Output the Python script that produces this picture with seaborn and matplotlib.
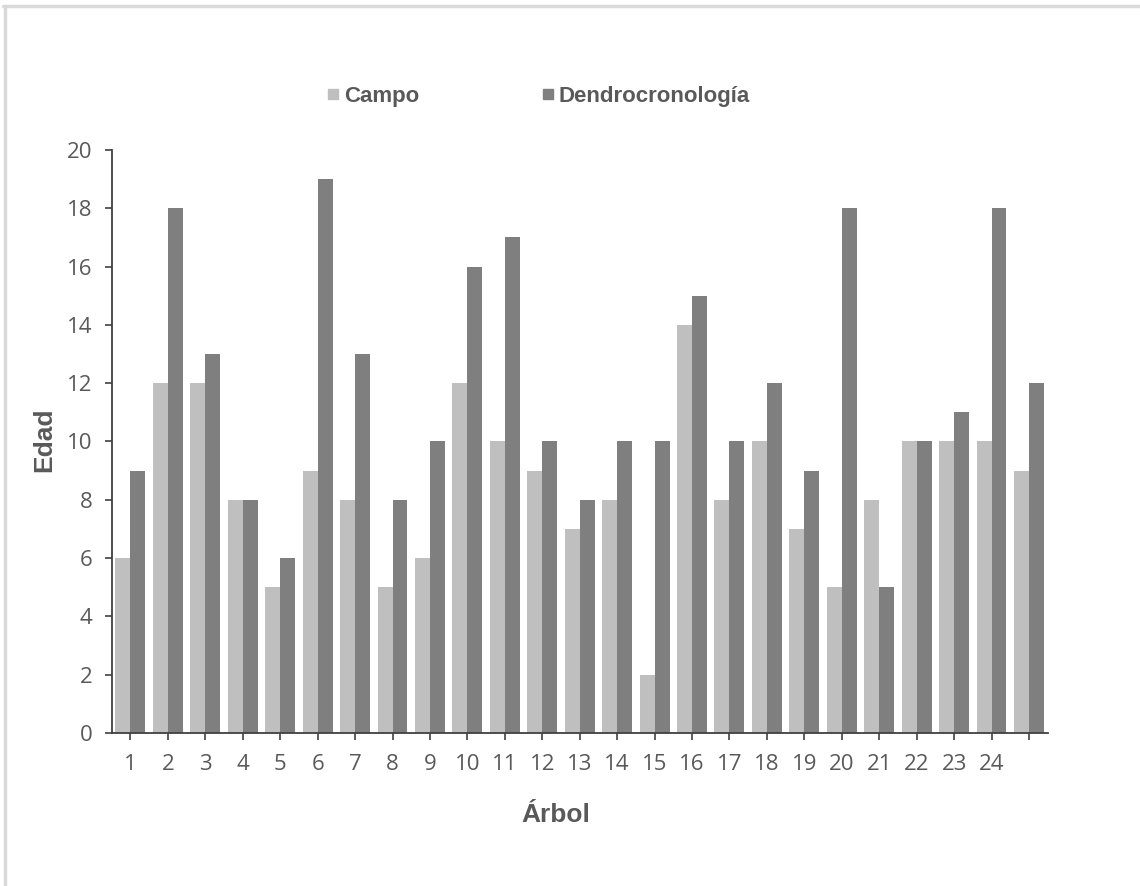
import numpy as np
import pandas as pd
import seaborn as sns
from matplotlib import pyplot as plt
from matplotlib.lines import Line2D

# datos
arboles = [str(i) for i in range(1, 26)]
campo = [6, 12, 12, 8, 5, 9, 8, 5, 6, 12, 10, 9, 7, 8, 2, 14, 8, 10, 7, 5, 8, 10, 10, 10, 9]
dendro = [9, 18, 13, 8, 6, 19, 13, 8, 10, 16, 17, 10, 8, 10, 10, 15, 10, 12, 9, 18, 5, 10, 11, 18, 12]
etiquetas_x = [str(i) for i in range(1, 25)] + [""]
etiquetas_y = [str(v) for v in range(0, 21, 2)]
series = ["Campo", "Dendrocronología"]

df = pd.DataFrame({
    "Árbol": arboles * 2,
    "Edad": campo + dendro,
    "Serie": [series[0]] * len(campo) + [series[1]] * len(dendro),
})

sns.set_theme(style="white")
plt.rcParams['font.family'] = ['Liberation Sans', 'DejaVu Sans']
colores = {"Campo": "#BFBFBF", "Dendrocronología": "#7F7F7F"}

fig = plt.figure(figsize=(11.4, 8.86), dpi=100)
ax = fig.add_axes([0.098, 0.1727, 0.821, 0.658])

sns.barplot(data=df, x="Árbol", y="Edad", hue="Serie", palette=colores,
            width=0.8, gap=0, saturation=1, linewidth=0, ax=ax, legend=False)

ax.tick_params(axis='both', which='both', direction='out', length=5, width=1.2,
               color="#404040", bottom=True, left=True, labelsize=16,
               labelcolor="#595959")
ax.tick_params(axis='x', pad=10)
ax.tick_params(axis='y', pad=9)

ax.set_xlim(-0.5, 24.5)
ax.set_ylim(0, 20)
tick_font = {'family': ['Open Sans', 'DejaVu Sans'], 'size': 16, 'color': '#595959'}
ax.set_yticks(range(0, 21, 2))
ax.set_yticklabels(etiquetas_y, fontdict=tick_font)
ax.set_xticks(range(25))
ax.set_xticklabels(etiquetas_x, fontdict=tick_font)

for s in ["top", "right"]:
    ax.spines[s].set_visible(False)
for s in ["left", "bottom"]:
    ax.spines[s].set_color("#404040")
    ax.spines[s].set_linewidth(1.3)

ax.set_xlabel("Árbol", fontsize=19, fontweight="bold", color="#595959")
ax.set_ylabel("Edad", fontsize=19, fontweight="bold", color="#595959")
ax.xaxis.set_label_coords(0.474, -0.12)
ax.yaxis.set_label_coords(-0.059, 0.503)

# leyenda
handles = [Line2D([0], [0], marker='s', linestyle='', markersize=7.5,
                  markerfacecolor=colores[s], markeredgecolor=colores[s]) for s in series]
fig.legend(handles, series, loc='center', bbox_to_anchor=(0.469, 0.891), ncol=2,
           frameon=False, handletextpad=-0.1, handlelength=1.2, columnspacing=5.2,
           prop={'weight': 'bold', 'size': 16})
for t in fig.legends[0].get_texts():
    t.set_color("#595959")

# marco gris
fig.add_artist(Line2D([0.003, 1.0], [0.993, 0.993], color="#D9D9D9", lw=2.5,
                      transform=fig.transFigure))
fig.add_artist(Line2D([0.004, 0.004], [0.0, 0.993], color="#D9D9D9", lw=2.5,
                      transform=fig.transFigure))

fig.savefig("out.png", dpi=100, facecolor="white")
